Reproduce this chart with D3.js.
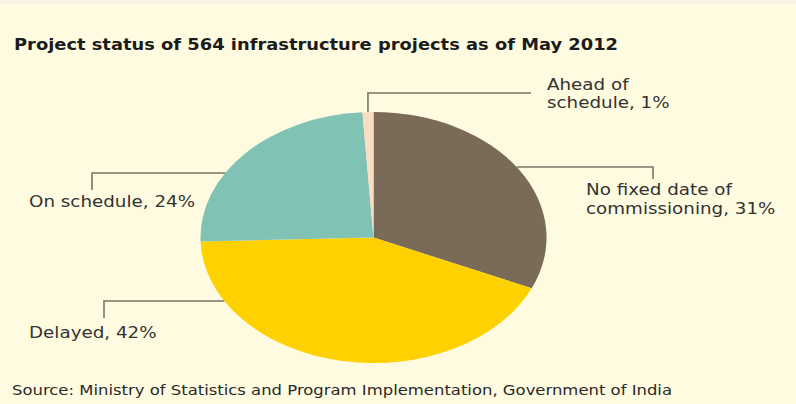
<!DOCTYPE html>
<html>
<head>
<meta charset="utf-8">
<script src="https://cdn.jsdelivr.net/npm/d3@7"></script>
<style>
  body { margin: 0; background: #fffbe0; }
  svg { display: block; }
</style>
</head>
<body>
<div id="vizcont"></div>
<script>
// data
var categories = ["No fixed date of commissioning", "Delayed", "On schedule", "Ahead of schedule"];
var shares = [31, 42, 24, 1];
var labelLines = [
    ["No fixed date of", "commissioning, 31%"],
    ["Delayed, 42%"],
    ["On schedule, 24%"],
    ["Ahead of", "schedule, 1%"]
];
var colors = ["#7a6a58", "#ffd100", "#80c3b5", "#fadcc3"];

var width = 796, height = 404;
var cx = 373.5, cy = 237.5, rx = 173, ry = 125.5;

// label layout: leader line elbow (x, y of the horizontal), tip end, text spot
var layout = [
    {side: "right", hy: 167, hx: 653, drop: 179, tx: 586, ty: 195, lh: 19},
    {side: "left",  hy: 301, hx: 104, drop: 318, tx: 29,  ty: 338, lh: 19},
    {side: "left",  hy: 173, hx: 92,  drop: 190, tx: 29,  ty: 207, lh: 19},
    {side: "top",   hy: 93,  hx: 531, drop: 0,   tx: 547, ty: 90,  lh: 18}
];
// the original face is wider than DejaVu, stretch glyphs a bit
var stretch = 1.18;

var svg = d3.select("#vizcont")
    .append("svg")
    .attr("width", width)
    .attr("height", height);

svg.append("rect")
    .attr("width", width).attr("height", height)
    .attr("fill", "#fffbe0");
// thin strip along the top edge
svg.append("rect")
    .attr("width", width).attr("height", 4)
    .attr("fill", "#f7f1e2");

svg.append("text")
    .attr("x", 14)
    .attr("y", 50)
    .attr("font-family", "'DejaVu Sans', sans-serif")
    .attr("font-weight", "bold")
    .attr("font-size", 16)
    .attr("fill", "#1b1b1b")
    .attr("textLength", 604)
    .attr("lengthAdjust", "spacingAndGlyphs")
    .text("Project status of 564 infrastructure projects as of May 2012");

var pie = d3.pie().sort(null).value(function(d) { return d; });
var arcs = pie(shares);
var arc = d3.arc().innerRadius(0).outerRadius(ry);

// pie is stretched sideways in the original
var g = svg.append("g")
    .attr("transform", "translate(" + cx + "," + cy + ") scale(" + (rx / ry) + ",1)");

g.selectAll("path")
    .data(arcs)
    .enter()
    .append("path")
    .attr("d", arc)
    .attr("fill", function(d, i) { return colors[i]; });

// leader lines
var leaders = svg.append("g")
    .attr("fill", "none")
    .attr("stroke", "#7d7465")
    .attr("stroke-width", 1.6);

arcs.forEach(function(d, i) {
    var L = layout[i];
    var pts;
    if (L.side === "top") {
        // drop straight down to the middle of the slice on the rim
        var mid = (d.startAngle + d.endAngle) / 2;
        var px = cx + rx * Math.sin(mid);
        var py = cy - ry * Math.cos(mid);
        pts = [[L.hx, L.hy], [px, L.hy], [px, py]];
    } else {
        // horizontal meets the ellipse rim
        var k = Math.sqrt(1 - Math.pow((L.hy - cy) / ry, 2));
        var ex = L.side === "right" ? cx + rx * k : cx - rx * k;
        pts = [[ex, L.hy], [L.hx, L.hy], [L.hx, L.drop]];
    }
    leaders.append("path").attr("d", d3.line()(pts));
});

// labels
var labels = svg.append("g")
    .attr("font-family", "'DejaVu Sans', sans-serif")
    .attr("font-size", 15.5)
    .attr("fill", "#333");

labelLines.forEach(function(lines, i) {
    var L = layout[i];
    lines.forEach(function(s, j) {
        var t = labels.append("text")
            .attr("x", L.tx)
            .attr("y", L.ty + j * L.lh)
            .text(s);
        var w = t.node().getComputedTextLength();
        t.attr("textLength", w * stretch)
         .attr("lengthAdjust", "spacingAndGlyphs");
    });
});

svg.append("text")
    .attr("x", 12)
    .attr("y", 395)
    .attr("font-family", "'DejaVu Sans', sans-serif")
    .attr("font-size", 14)
    .attr("fill", "#2a2a2a")
    .attr("textLength", 660)
    .attr("lengthAdjust", "spacingAndGlyphs")
    .text("Source: Ministry of Statistics and Program Implementation, Government of India");
</script>
</body>
</html>
